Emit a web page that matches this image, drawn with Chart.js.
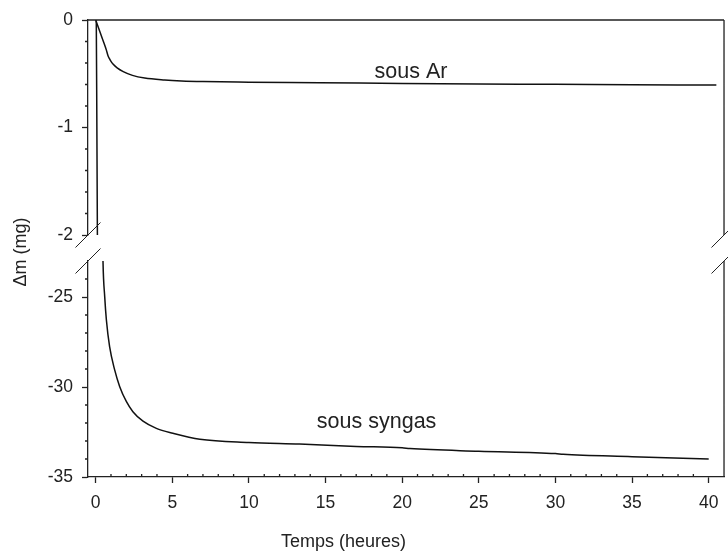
<!DOCTYPE html>
<html lang="fr">
<head>
<meta charset="UTF-8">
<title>Perte de masse - Ar / syngas</title>
<script src="https://cdn.jsdelivr.net/npm/chart.js"></script>
<style>
  html, body { margin: 0; padding: 0; background: #fff; }
</style>
</head>
<body>
<canvas id="myChart" width="728" height="552"></canvas>
<script>
// courbe sous argon (heures, mg)
const arTime = [0, 0.48, 0.7, 0.8, 0.9, 1.0, 1.13, 1.4, 1.8, 2.4, 3.2, 4.5, 5.6, 7, 10, 14.6, 20, 25, 30, 35, 40.5];
const arMass = [0, -0.19, -0.28, -0.33, -0.36, -0.385, -0.41, -0.445, -0.48, -0.515, -0.54, -0.558, -0.567, -0.573, -0.578, -0.583, -0.59, -0.595, -0.598, -0.602, -0.605];

// courbe sous syngas (heures, mg)
const synTime = [0.04, 0.12, 0.48, 0.59, 0.7, 0.91, 1.24, 1.57, 2.0, 2.43, 3.09, 3.96, 5.04, 6.8, 10, 13.3, 17, 20, 20.5, 25, 30, 30.5, 35, 40];
const synMass = [0, -2.2, -23.05, -24.98, -26.28, -27.76, -29.05, -29.98, -30.8, -31.37, -31.9, -32.3, -32.57, -32.9, -33.08, -33.17, -33.3, -33.38, -33.42, -33.57, -33.7, -33.74, -33.87, -34.0];

// graduations
const xTicks = [0, 5, 10, 15, 20, 25, 30, 35, 40];
const yTopTicks = [0, -1, -2];
const yBotTicks = [-25, -30, -35];

// étiquettes des courbes (ligne de base, en unités des axes)
const noteText = ['sous Ar', 'sous syngas'];
const noteX = [20.58, 18.33];
const noteY = [-0.54, -32.28];

const axisColor = '#222';
const textColor = '#222';
const family = '"Liberation Sans", Arial, sans-serif';

Chart.defaults.font.family = family;
Chart.defaults.font.size = 17.5;
Chart.defaults.color = textColor;

function pts(xs, ys) {
    return xs.map((t, i) => ({ x: t, y: ys[i] }));
}

function yScale(extra) {
    return Object.assign({
        type: 'linear',
        position: 'left',
        stack: 'dm',
        afterFit: s => { s.width = 88; },
        grid: { drawOnChartArea: false, drawTicks: true, tickLength: 6, tickColor: axisColor, tickWidth: 1.3 },
        border: { display: true, color: axisColor, width: 1.3 },
        ticks: { padding: 9, color: textColor, callback: v => String(v) }
    }, extra);
}

// cadre, petites graduations, coupures d'axe, textes
const decor = {
    id: 'decor',
    afterDraw(chart) {
        const { ctx, chartArea: a } = chart;
        const { x, yTop, yBot } = chart.scales;
        ctx.save();
        ctx.strokeStyle = axisColor;
        ctx.lineWidth = 1.3;
        ctx.beginPath();
        ctx.moveTo(a.left, yTop.top); ctx.lineTo(a.right, yTop.top);
        ctx.moveTo(a.right, yTop.top); ctx.lineTo(a.right, yTop.bottom);
        ctx.moveTo(a.right, yBot.top); ctx.lineTo(a.right, yBot.bottom);
        for (let i = 1; i < 10; i++) {
            if (i % 5 === 0) continue;
            const py = yTop.getPixelForValue(-0.2 * i);
            ctx.moveTo(a.left - 3, py); ctx.lineTo(a.left, py);
        }
        for (let v = -24; v > -35; v--) {
            if (v % 5 === 0) continue;
            const py = yBot.getPixelForValue(v);
            ctx.moveTo(a.left - 3, py); ctx.lineTo(a.left, py);
        }
        for (let v = 1; v < 41; v++) {
            if (v % 5 === 0) continue;
            const px = x.getPixelForValue(v);
            ctx.moveTo(px, a.bottom); ctx.lineTo(px, a.bottom - 3);
        }
        ctx.stroke();

        ctx.lineWidth = 1;
        ctx.beginPath();
        [a.left, a.right].forEach(cx => {
            [yTop.bottom, yBot.top].forEach(cy => {
                ctx.moveTo(cx - 12.5, cy + 12.5);
                ctx.lineTo(cx + 12.5, cy - 12.5);
            });
        });
        ctx.stroke();

        ctx.fillStyle = textColor;
        ctx.textAlign = 'center';
        ctx.textBaseline = 'alphabetic';
        ctx.font = '21.5px ' + family;
        ctx.fillText(noteText[0], x.getPixelForValue(noteX[0]), yTop.getPixelForValue(noteY[0]));
        ctx.fillText(noteText[1], x.getPixelForValue(noteX[1]), yBot.getPixelForValue(noteY[1]));

        ctx.font = '18px ' + family;
        ctx.fillText('Temps (heures)', 343.5, 547);
        ctx.translate(26, 252);
        ctx.rotate(-Math.PI / 2);
        ctx.fillText('\u0394m (mg)', 0, 0);
        ctx.restore();
    }
};

const lineStyle = {
    borderColor: '#111',
    borderWidth: 1.5,
    pointRadius: 0,
    fill: false,
    cubicInterpolationMode: 'monotone'
};

const ctx = document.getElementById('myChart').getContext('2d');
new Chart(ctx, {
    type: 'line',
    data: {
        datasets: [
            Object.assign({ label: 'sous Ar', data: pts(arTime, arMass), yAxisID: 'yTop' }, lineStyle),
            Object.assign({ label: 'sous syngas', data: pts(synTime, synMass), yAxisID: 'yTop' }, lineStyle),
            Object.assign({ label: 'sous syngas ', data: pts(synTime, synMass), yAxisID: 'yBot' }, lineStyle)
        ]
    },
    options: {
        responsive: false,
        animation: false,
        layout: { padding: { top: 20, right: 3, left: 0, bottom: 0 } },
        plugins: {
            legend: { display: false },
            tooltip: { enabled: false }
        },
        scales: {
            x: {
                type: 'linear',
                position: 'bottom',
                min: -0.5,
                max: 41,
                afterFit: s => { s.height = 75; },
                afterBuildTicks: s => { s.ticks = xTicks.map(v => ({ value: v })); },
                grid: { drawOnChartArea: false, drawTicks: true, tickLength: 6, tickColor: axisColor, tickWidth: 1.3 },
                border: { display: true, color: axisColor, width: 1.3 },
                ticks: { padding: 9.5, color: textColor, maxRotation: 0, autoSkip: false, callback: v => String(v) }
            },
            yTop: yScale({
                min: -2, max: 0, stackWeight: 215, weight: 3,
                afterBuildTicks: s => { s.ticks = yTopTicks.map(v => ({ value: v })); }
            }),
            yGap: {
                type: 'linear',
                position: 'left',
                stack: 'dm',
                stackWeight: 26,
                weight: 2,
                afterFit: s => { s.width = 88; },
                grid: { display: false },
                border: { display: false },
                ticks: { display: false }
            },
            yBot: yScale({
                min: -35, max: -23, stackWeight: 216, weight: 1,
                afterBuildTicks: s => { s.ticks = yBotTicks.map(v => ({ value: v })); }
            })
        }
    },
    plugins: [decor]
});
</script>
</body>
</html>
